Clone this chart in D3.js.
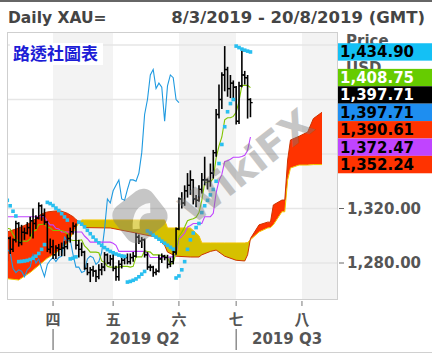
<!DOCTYPE html>
<html>
<head>
<meta charset="utf-8">
<script src="https://cdn.jsdelivr.net/npm/d3@7"></script>
<style>
  body { margin: 0; background: #fff; }
  svg { display: block; }
</style>
</head>
<body>
<svg id="chart"></svg>
<script>
// bars: index 0 = 8 Mar 2019 ... 85 = 8 Jul 2019 (trading days)
const opens  = [1285.5,1298,1290,1297,1309,1295,1302.5,1302,1306,1311,1309,1313,1322,1315,1310,1290,
  1292,1286,1291,1290,1291,1292,1298,1303,1307,1293,1290,1288,1276,1273,1275,1274,1270,1275,1277,1286,1280,
  1283,1276,1270,1279,1282,1284,1281,1284,1285,1299,1296,1297,1286,1277,1277,1273,1274,1283,1285,1284,1279,1281,1288,
  1305,1327,1324,1333,1337,1341,1327,1326,1334,1341,1341,1340,1346,1361,1389,1400,1418,1422,1408,1412,
  1409,1384,1410,1418,1416,1400];
const highs  = [1299,1299.5,1298,1311,1310,1308,1306,1310,1314,1320,1315,1324.5,1323,1320,1311,1298,
  1297,1293,1294,1295,1296,1301,1306,1310,1309,1297,1295,1289,1280,1277,1278,1275,1279,1280,1288,1287,1286,
  1287,1278,1282,1284,1286,1287,1287,1288,1302,1301,1299,1298,1288,1279,1278,1276,1286,1287,1286,1286,1284,1290,1306,
  1328,1332,1337,1346,1348,1341.5,1330,1337,1346,1358,1342,1353,1363,1393,1411,1420,1439.2,1424,1418,1414,
  1410,1413,1435.9,1421,1418,1401];
const lows   = [1281.2,1286.6,1288,1295,1292,1293,1297,1301,1299.5,1298,1305,1312,1311,1308,1288,1287,
  1283,1283,1285,1285,1285,1290,1295,1301,1290,1284,1285,1275,1271,1266,1270,1266,1268,1271,1274,1279,1278,
  1274,1267,1267,1276,1279,1279,1279,1281,1284,1294,1291,1284,1275,1274,1270,1271,1273,1280,1282,1276,1277,1279,1286,
  1304,1320,1322,1328,1330,1323,1321,1325,1331,1337,1334,1336,1342,1358,1386,1393,1406,1402,1401,1401,
  1381.6,1382,1409,1411,1386,1387];
const closes = [1298.4,1290,1297,1309,1295,1302.5,1302,1306,1311,1309,1313,1322,1315,1310,1290,1292,
  1286,1291,1290,1291,1292,1298,1303,1307,1293,1290,1288,1276,1273,1275,1274,1270,1275,1277,1286,1280,1283,
  1276,1270,1279,1282,1284,1281,1284,1285,1299,1296,1297,1286,1277,1277,1273,1274,1283,1285,1284,1279,1281,1288,1305,
  1327,1324,1333,1337,1341,1327,1326,1334,1341,1341,1340,1346,1361,1389,1400,1418,1422,1408,1412,1409,
  1384,1410,1418,1416,1400,1397.71];

// ichimoku lines
const tenkan = [1305.5,1305,1301,1297.5,1296,1296,1296,1296,1297.6,1303.3,1304,1308.3,1308.3,1308.8,1306.3,1305.8,
  1303.8,1303.8,1303.8,1303.8,1303,1301.5,1297,1296.5,1296.5,1296.5,1297,1292.5,1290.5,1288,1288,1288,1287.5,1281.5,1280.5,1277.5,1277,
  1277,1277,1277,1277.5,1277.5,1277.5,1277,1277.5,1284.5,1284.5,1284.5,1289,1288.5,1288,1286,1286,1286,1285.5,1284.5,1284,1279,1280,1288,
  1299.5,1302.5,1306.5,1311,1312,1312.5,1313.5,1317,1326,1339,1339.5,1339.5,1342,1357,1366,1372.5,1385.1,1386.6,1386.6,1387.6,
  1390.6,1398.6,1410.4,1410.4,1410.4,1408.75];
const kijun = [1313.9,1313.9,1313.9,1313.9,1313.9,1313.9,1313.9,1313.9,1313.9,1313.9,1313.9,1313.9,1313.9,1313.9,1310.5,1308,
  1308,1305.5,1305,1302.8,1302.8,1302.8,1302.8,1302.8,1302.8,1302.8,1302.8,1299.8,1297.8,1295.3,1295.3,1295.3,1295.3,1295.3,1295.3,1295.3,1295.3,
  1294.5,1293,1288.5,1288.5,1288.5,1288.5,1288.5,1288.5,1288.5,1288.5,1288.5,1288.5,1287.5,1284,1284,1284,1284,1284,1284,1284,1284.5,1284.5,1286.5,
  1297.5,1299.5,1302,1306.5,1307.5,1309,1309,1309,1309,1314,1314,1314,1316.5,1331.5,1340.5,1345,1354.6,1355.1,1356.1,1357.6,
  1357.6,1357.6,1358.1,1359.1,1362.6,1372.47];
const sar = [1326,1322,1318,1314.5,1281,1281.2,1281.5,1281.9,1282.6,1283.5,1285,1287,1290,1293.5,1324.5,1323.6,
  1322.2,1320.3,1318.5,1316.2,1313.8,1311.5,1283,1283.5,1284.5,1310,1308.5,1306.5,1304,1301.5,1299,1296.8,1294.8,1293,1291.3,1289.8,1288.5,
  1287.5,1286.6,1285.8,1285.2,1284.8,1266,1266.5,1267.3,1268.3,1269.9,1271.8,1273.8,1303.5,1302,1300.5,1299,1297.5,1296,1294.5,1293,1291.5,1290.2,1269,
  1270.5,1275,1281,1290,1297,1302,1306,1309,1317,1322,1326,1330,1334,1340,1353,1367,1380,1391,1397,1400,
  1439.2,1438.1,1437,1436.2,1435.5,1434.9];

// cloud (senkou spans), projected ahead
const cloudIdx = [0,4,8,12,14,17,19,21,23,24,25,26,27,36,45,52,55,56,59,64,67,68,71,73,76,80,83,84,85,88,91,92,93,96,97,98,99,102,105,107,110];
const spanA    = [1302.8,1305.7,1309.4,1316,1317.5,1318.2,1318,1316.5,1314,1312,1310.5,1308,1306,1305.7,1302,1299,1293,1288,1285,1284.4,1284.4,1286,1288.5,1289.5,1285,1282,1281.5,1286,1298,1308,1310,1310,1322.6,1326.2,1326.2,1355.6,1370.3,1373,1376.1,1386,1390.61];
const spanB    = [1268.5,1267.5,1273,1280,1283.5,1287.3,1291,1294.7,1302,1306,1309.5,1311.6,1311.6,1311.6,1311.6,1311.6,1311.6,1305.7,1305.7,1305.7,1300,1294.7,1294.7,1294.7,1294.7,1294.7,1294.7,1295,1297,1302.8,1305.7,1306,1308,1317.6,1317.6,1340.9,1349.7,1351.9,1351.9,1352.24,1352.24];

const chikouShift = 25;
const monthIdx = [16, 37, 60, 80, 103];
const monthLabels = ["四", "五", "六", "七", "八"];
const quarterIdx = [16, 80];
const quarterLabels = ["2019 Q2", "2019 Q3"];
const priceTicks = [1280, 1320, 1360, 1400, 1440];

const width = 432, height = 353;
const plot = { left: 7, right: 338, top: 32, bottom: 300 };
const latin = "'DejaVu Sans', Verdana, sans-serif";
const cjk = "'Noto Sans CJK TC', 'Noto Sans CJK SC', sans-serif";

const svg = d3.select("#chart").attr("width", width).attr("height", height);

const x = d3.scaleLinear().domain([-0.1, 115.6]).range([plot.left, plot.right]);
const y = d3.scaleLinear().domain([1440, 1280]).range([45, 263]);

// frame lines of the picture
svg.append("rect").attr("x", 0).attr("y", 0).attr("width", width).attr("height", 2).attr("fill", "#666");
svg.append("rect").attr("x", 0).attr("y", height - 1).attr("width", width).attr("height", 1).attr("fill", "#d0d0d0");

// header
svg.append("text").attr("x", 8).attr("y", 23)
  .attr("font-family", latin).attr("font-weight", "bold").attr("font-size", 15.5).attr("fill", "#444")
  .text("Daily XAU=");
svg.append("text").attr("x", 425).attr("y", 23).attr("text-anchor", "end")
  .attr("font-family", latin).attr("font-weight", "bold").attr("font-size", 16.5).attr("fill", "#444")
  .text("8/3/2019 - 20/8/2019 (GMT)");

svg.append("clipPath").attr("id", "plotClip").append("rect")
  .attr("x", plot.left).attr("y", plot.top)
  .attr("width", plot.right - plot.left).attr("height", plot.bottom - plot.top);

const g = svg.append("g").attr("clip-path", "url(#plotClip)");

// alternating month bands
const bandStarts = [-1].concat(monthIdx);
bandStarts.forEach((s, k) => {
  const e = k + 1 < bandStarts.length ? bandStarts[k + 1] : 200;
  g.append("rect")
    .attr("x", x(s)).attr("y", plot.top)
    .attr("width", x(e) - x(s)).attr("height", plot.bottom - plot.top)
    .attr("fill", k % 2 === 1 ? "#f3f3f3" : "#fff");
});

// horizontal grid
g.selectAll(".grid").data(priceTicks).enter().append("line")
  .attr("x1", plot.left).attr("x2", plot.right)
  .attr("y1", d => y(d)).attr("y2", d => y(d))
  .attr("stroke", "#e6e6e6").attr("stroke-width", 1.5);

// cloud, coloured by which span is on top
const ci = d3.range(cloudIdx.length);
const between = d3.area().x(i => x(cloudIdx[i])).y0(i => y(spanA[i])).y1(i => y(spanB[i]));
const aboveB = d3.area().x(i => x(cloudIdx[i])).y0(plot.top - 5).y1(i => y(spanB[i]));
const belowB = d3.area().x(i => x(cloudIdx[i])).y0(plot.bottom + 5).y1(i => y(spanB[i]));
svg.append("clipPath").attr("id", "clipAbove").append("path").attr("d", aboveB(ci));
svg.append("clipPath").attr("id", "clipBelow").append("path").attr("d", belowB(ci));
g.append("g").attr("clip-path", "url(#clipAbove)").append("path")
  .attr("d", between(ci)).attr("fill", "#ff3300");
g.append("g").attr("clip-path", "url(#clipBelow)").append("path")
  .attr("d", between(ci)).attr("fill", "#d6c000");
g.append("path").datum(ci)
  .attr("d", d3.line().x(i => x(cloudIdx[i])).y(i => y(spanB[i])))
  .attr("fill", "none").attr("stroke", "#f2c400").attr("stroke-width", 1);
g.append("path").datum(ci)
  .attr("d", d3.line().x(i => x(cloudIdx[i])).y(i => y(spanA[i])))
  .attr("fill", "none").attr("stroke", "#cc3300").attr("stroke-width", 1);

// chikou, kijun, tenkan
const chikouPts = d3.range(chikouShift, closes.length);
g.append("path").datum(chikouPts)
  .attr("d", d3.line().x(i => x(i - chikouShift)).y(i => y(closes[i])))
  .attr("fill", "none").attr("stroke", "#1f9ae0").attr("stroke-width", 1.1);
g.append("path").datum(d3.range(kijun.length))
  .attr("d", d3.line().x(i => x(i)).y(i => y(kijun[i])))
  .attr("fill", "none").attr("stroke", "#c044ff").attr("stroke-width", 1.1);
g.append("path").datum(d3.range(tenkan.length))
  .attr("d", d3.line().x(i => x(i)).y(i => y(tenkan[i])))
  .attr("fill", "none").attr("stroke", "#80c400").attr("stroke-width", 1.1);

// OHLC bars
const bars = g.append("g").attr("stroke", "#000");
d3.range(closes.length).forEach(i => {
  const cx = x(i);
  bars.append("line").attr("x1", cx).attr("x2", cx).attr("y1", y(highs[i])).attr("y2", y(lows[i])).attr("stroke-width", 1.6);
  bars.append("line").attr("x1", cx - 2.2).attr("x2", cx).attr("y1", y(opens[i])).attr("y2", y(opens[i])).attr("stroke-width", 1.3);
  bars.append("line").attr("x1", cx).attr("x2", cx + 2.2).attr("y1", y(closes[i])).attr("y2", y(closes[i])).attr("stroke-width", 1.3);
});

// parabolic SAR
g.selectAll(".sar").data(sar).enter().append("rect")
  .attr("x", (d, i) => x(i) - 1.8).attr("y", d => y(d) - 1.8)
  .attr("width", 3.6).attr("height", 3.6)
  .attr("fill", "#29bff0");

// watermark
const wm = svg.append("g").attr("opacity", 0.42).attr("fill", "#7a7a7a");
wm.append("text")
  .attr("transform", "translate(246,166) rotate(-38)")
  .attr("text-anchor", "middle").attr("dominant-baseline", "central")
  .attr("font-family", latin).attr("font-weight", "bold").attr("font-size", 40)
  .text("WikiFX");
const logo = wm.append("g").attr("transform", "translate(140,216) rotate(-38)");
logo.append("rect").attr("x", -24).attr("y", -22).attr("width", 48).attr("height", 44).attr("rx", 12);
logo.append("path").attr("d", "M-14,6 Q0,-14 16,-4 L10,4 Q0,-4 -8,10 Z").attr("fill", "#fff").attr("opacity", 0.9);

// reuters tag
svg.append("rect").attr("x", 10).attr("y", 43).attr("width", 93).attr("height", 22).attr("fill", "#fff");
svg.append("text").attr("x", 13).attr("y", 60)
  .attr("font-family", cjk).attr("font-weight", "bold").attr("font-size", 17).attr("fill", "#1c1cd6")
  .text("路透社圖表");

// plot border
svg.append("rect")
  .attr("x", plot.left + 0.5).attr("y", plot.top + 0.5)
  .attr("width", plot.right - plot.left - 1).attr("height", plot.bottom - plot.top - 1)
  .attr("fill", "none").attr("stroke", "#cfcfcf");

// last-value boxes: push down from the top, then pull back up from the last one
const fmt = d3.format(",.2f");
const last = a => a[a.length - 1];
const valueLabels = [
  { v: last(sar), bg: "#14c0f5", fg: "#000" },
  { v: last(tenkan), bg: "#66cc00", fg: "#fff" },
  { v: last(closes), bg: "#000", fg: "#fff" },
  { v: last(closes), bg: "#1e8ef0", fg: "#000" },
  { v: last(spanA), bg: "#ff3300", fg: "#000" },
  { v: last(kijun), bg: "#c044ff", fg: "#000" },
  { v: last(spanB), bg: "#ff3300", fg: "#000" }
];
const boxH = 17.4;
const nat = valueLabels.map(d => y(d.v));
const down = [];
nat.forEach((n, i) => { down[i] = i === 0 ? n : Math.max(n, down[i - 1] + boxH); });
const pos = [];
for (let i = nat.length - 1; i >= 0; i--) {
  pos[i] = i === nat.length - 1 ? nat[i] : Math.min(down[i], pos[i + 1] - boxH);
}
valueLabels.forEach((d, i) => { d.top = pos[i] - boxH / 2; });
const covered = v => valueLabels.some(d => y(v) + 9 > d.top && y(v) - 9 < d.top + boxH);

// right axis (tick labels under a value box are not visible)
svg.selectAll(".ytick").data(priceTicks).enter().append("line")
  .attr("x1", plot.right + 1).attr("x2", plot.right + 6)
  .attr("y1", d => y(d)).attr("y2", d => y(d)).attr("stroke", "#666");
svg.selectAll(".ylab").data(priceTicks.filter(v => !covered(v))).enter().append("text")
  .attr("x", 347).attr("y", d => y(d)).attr("dominant-baseline", "central")
  .attr("font-family", latin).attr("font-weight", "bold").attr("font-size", 15).attr("fill", "#555")
  .text(d => fmt(d));
svg.append("text").attr("x", 346).attr("y", 46)
  .attr("font-family", latin).attr("font-weight", "bold").attr("font-size", 15).attr("fill", "#555").text("Price");
svg.append("text").attr("x", 346).attr("y", 73)
  .attr("font-family", latin).attr("font-weight", "bold").attr("font-size", 15).attr("fill", "#555").text("USD");

const boxes = svg.selectAll(".vbox").data(valueLabels).enter().append("g");
boxes.append("rect")
  .attr("x", plot.right).attr("y", d => d.top)
  .attr("width", width - plot.right).attr("height", boxH)
  .attr("fill", d => d.bg);
boxes.append("text")
  .attr("x", plot.right + 2).attr("y", d => d.top + boxH / 2 + 5.5)
  .attr("font-family", latin).attr("font-weight", "bold").attr("font-size", 15)
  .attr("fill", d => d.fg)
  .text(d => fmt(d.v));

// bottom axis
svg.selectAll(".mtick").data(monthIdx).enter().append("line")
  .attr("x1", d => x(d)).attr("x2", d => x(d))
  .attr("y1", plot.bottom + 1).attr("y2", plot.bottom + 6).attr("stroke", "#777");
svg.selectAll(".mlab").data(monthIdx).enter().append("text")
  .attr("x", d => x(d)).attr("y", 318).attr("text-anchor", "middle").attr("dominant-baseline", "central")
  .attr("font-family", cjk).attr("font-weight", "bold").attr("font-size", 15).attr("fill", "#555")
  .text((d, i) => monthLabels[i]);
svg.selectAll(".qline").data(quarterIdx).enter().append("line")
  .attr("x1", d => x(d)).attr("x2", d => x(d))
  .attr("y1", 329).attr("y2", 350).attr("stroke", "#555");
svg.selectAll(".qlab").data(quarterIdx).enter().append("text")
  .attr("x", (d, i) => ((x(d) + (i + 1 < quarterIdx.length ? x(quarterIdx[i + 1]) : plot.right)) / 2))
  .attr("y", 339).attr("text-anchor", "middle").attr("dominant-baseline", "central")
  .attr("font-family", latin).attr("font-weight", "bold").attr("font-size", 15).attr("fill", "#555")
  .text((d, i) => quarterLabels[i]);
</script>
</body>
</html>
